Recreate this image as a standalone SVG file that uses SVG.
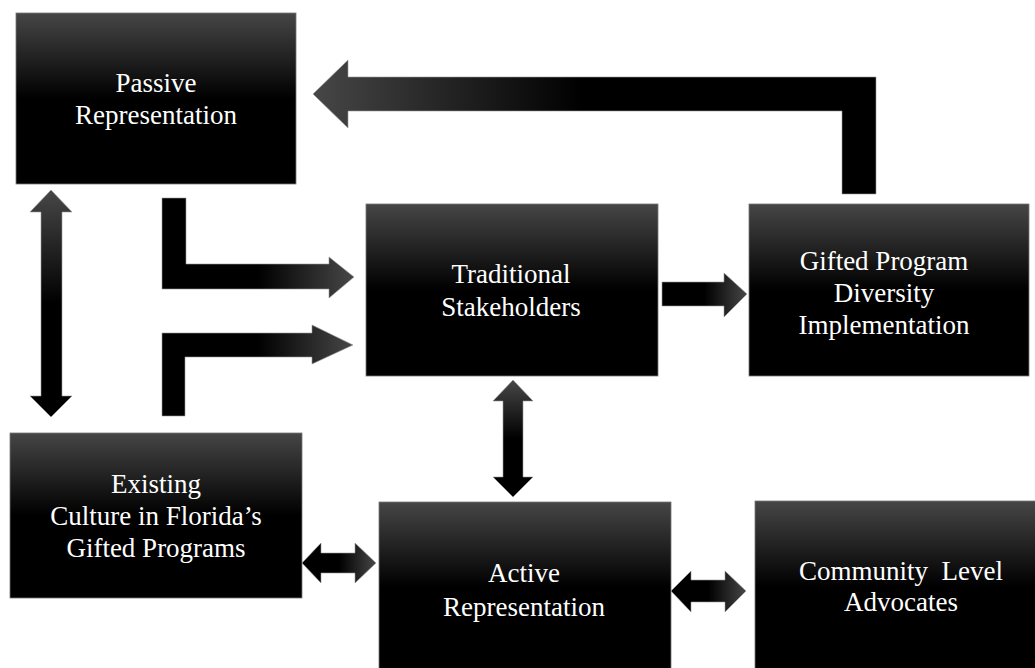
<svg xmlns="http://www.w3.org/2000/svg" width="1035" height="668" viewBox="0 0 1035 668">
<defs>
<linearGradient id="gBox" x1="0" y1="0" x2="0" y2="1">
<stop offset="0" stop-color="#464646"/>
<stop offset="0.5" stop-color="#000"/>
<stop offset="1" stop-color="#000"/>
</linearGradient>
<linearGradient id="gLeft" x1="0" y1="0" x2="1" y2="0">
<stop offset="0" stop-color="#474747"/>
<stop offset="0.48" stop-color="#000"/>
<stop offset="1" stop-color="#000"/>
</linearGradient>
<linearGradient id="gRight" x1="0" y1="0" x2="1" y2="0">
<stop offset="0" stop-color="#000"/>
<stop offset="0.5" stop-color="#000"/>
<stop offset="1" stop-color="#474747"/>
</linearGradient>
<linearGradient id="gUp" x1="0" y1="0" x2="0" y2="1">
<stop offset="0" stop-color="#474747"/>
<stop offset="0.5" stop-color="#000"/>
<stop offset="1" stop-color="#000"/>
</linearGradient>
<style>
.box{fill:url(#gBox);stroke:#777;stroke-width:0.8}
.lbl{font-family:'Liberation Serif','DejaVu Serif',serif;font-size:27px;fill:#fff;text-anchor:middle}
.arr{stroke:#999;stroke-width:0.6}
</style>
</defs>
<g id="connectors">
<path class="arr" fill="url(#gLeft)" d="M876,194 L876,77 L348,77 L348,60 L313,94 L348,128 L348,111 L842,111 L842,194 Z"/>
<path class="arr" fill="url(#gRight)" d="M162,198 L186,198 L186,264 L329,264 L329,257 L354,277 L329,298 L329,289 L162,289 Z"/>
<path class="arr" fill="url(#gRight)" d="M162,416 L162,333 L312,333 L312,325 L353,345 L312,364 L312,357 L185,357 L185,416 Z"/>
<path class="arr" fill="url(#gUp)" d="M51,190 L72,212 L62,212 L62,396 L72,396 L51,417 L30,396 L41,396 L41,212 L30,212 Z"/>
<path class="arr" fill="url(#gUp)" d="M513,380 L533,401 L523,401 L523,477 L533,477 L513,497 L493,477 L503,477 L503,401 L493,401 Z"/>
<path class="arr" fill="url(#gRight)" d="M302,563 L321,543 L321,553 L355,553 L355,543 L376,563 L355,583 L355,573 L321,573 L321,583 Z"/>
<path class="arr" fill="url(#gRight)" d="M671,591 L691,571 L691,580 L725,580 L725,571 L746,591 L725,612 L725,602 L691,602 L691,612 Z"/>
<path class="arr" fill="url(#gRight)" d="M662,282 L724,282 L724,273 L747,294 L724,317 L724,306 L662,306 Z"/>
</g>
<g id="passive">
<rect class="box" x="16" y="13" width="280" height="171"/>
<text class="lbl" font-family="Liberation Serif, serif" x="156" y="92">Passive</text>
<text class="lbl" font-family="Liberation Serif, serif" x="156" y="124">Representation</text>
</g>
<g id="traditional">
<rect class="box" x="366" y="204" width="292" height="172"/>
<text class="lbl" font-family="Liberation Serif, serif" x="511" y="283">Traditional</text>
<text class="lbl" font-family="Liberation Serif, serif" x="511" y="316">Stakeholders</text>
</g>
<g id="gifted">
<rect class="box" x="749" y="204" width="280" height="172"/>
<text class="lbl" font-family="Liberation Serif, serif" x="884" y="270">Gifted Program</text>
<text class="lbl" font-family="Liberation Serif, serif" x="884" y="302">Diversity</text>
<text class="lbl" font-family="Liberation Serif, serif" x="884" y="334">Implementation</text>
</g>
<g id="existing">
<rect class="box" x="10" y="433" width="292" height="165"/>
<text class="lbl" font-family="Liberation Serif, serif" x="156" y="493">Existing</text>
<text class="lbl" font-family="Liberation Serif, serif" x="156" y="525">Culture in Florida’s</text>
<text class="lbl" font-family="Liberation Serif, serif" x="156" y="557">Gifted Programs</text>
</g>
<g id="active">
<rect class="box" x="379" y="502" width="292" height="170"/>
<text class="lbl" font-family="Liberation Serif, serif" x="524" y="582">Active</text>
<text class="lbl" font-family="Liberation Serif, serif" x="524" y="616">Representation</text>
</g>
<g id="community">
<rect class="box" x="755" y="501" width="284" height="171"/>
<text class="lbl" font-family="Liberation Serif, serif" x="901" y="580" xml:space="preserve">Community  Level</text>
<text class="lbl" font-family="Liberation Serif, serif" x="901" y="611">Advocates</text>
</g>
</svg>
